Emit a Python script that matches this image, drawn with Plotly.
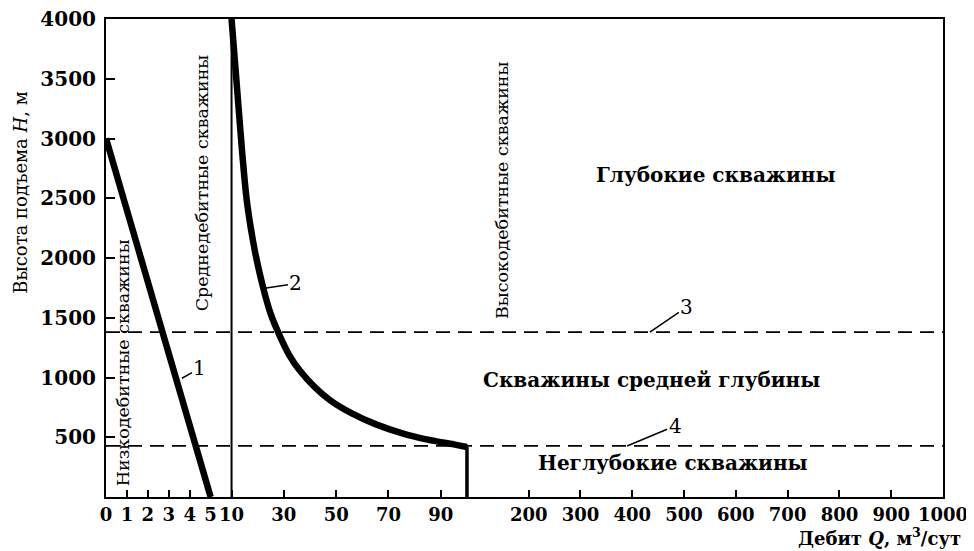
import numpy as np
import plotly.graph_objects as go

# ---- axis scale (piecewise x axis: 0-5, 10-100, 200-1000) ----
Q_BREAKS = [0, 5, 10, 100, 200, 1000]
U_BREAKS = [0, 5, 6, 17.25, 20.2, 40]


def to_u(q):
    return np.interp(q, Q_BREAKS, U_BREAKS)


# ---- data ----
x_tick_values = [0, 1, 2, 3, 4, 5, 10, 30, 50, 70, 90, 200, 300, 400, 500, 600, 700, 800, 900, 1000]
x_tick_labels = [str(v) for v in x_tick_values]
y_tick_values = [500, 1000, 1500, 2000, 2500, 3000, 3500, 4000]

# curve 1 (low-rate wells boundary)
curve1_q = [0, 5]
curve1_h = [3000, 0]

# curve 2 (medium/high-rate boundary)
curve2_q = [10, 12, 14, 16, 19, 22, 25, 28, 32, 36, 42, 48, 56, 65, 75, 85, 95, 100]
curve2_h = [4000, 3450, 2900, 2450, 2050, 1760, 1530, 1370, 1190, 1060, 915, 805, 700, 610, 535, 480, 440, 418]

# vertical drop of curve 2 at Q = 100
drop_q = [100, 100]
drop_h = [418, 0]

# boundary at Q = 10
vline_q = [10, 10]
vline_h = [0, 4000]

# depth boundaries (dashed) 3 and 4
depth_q = [0, 1000]
line3_h = 1380
line4_h = 427

SERIF = "DejaVu Serif"

fig = go.Figure()


def add_line(q, h, width, dash=None, shape="linear"):
    fig.add_trace(go.Scatter(
        x=to_u(q), y=h, mode="lines",
        line=dict(color="black", width=width, dash=dash, shape=shape, smoothing=1.0),
        showlegend=False, hoverinfo="skip"))


add_line(depth_q, [line3_h, line3_h], 1.8, dash="14px,8px")
add_line(depth_q, [line4_h, line4_h], 1.8, dash="14px,8px")
add_line(vline_q, vline_h, 2)
add_line(curve1_q, curve1_h, 6.5)
add_line(curve2_q, curve2_h, 6.5, shape="spline")
add_line(drop_q, drop_h, 3.5)

# ---- region labels ----
vert_labels = [
    ("Низкодебитные скважины", 0.81, 1127),
    ("Среднедебитные скважины", 4.59, 2625),
    ("Высокодебитные скважины", 158, 2566),
]
for text, q, h in vert_labels:
    fig.add_annotation(x=float(to_u(q)), y=h, text=text, textangle=-90, showarrow=False,
                       font=dict(family=SERIF, size=17.5, color="black"))

horiz_labels = [
    ("Глубокие скважины", 562, 2693),
    ("Скважины средней глубины", 438, 977),
    ("Неглубокие скважины", 479, 282),
]
for text, q, h in horiz_labels:
    fig.add_annotation(x=float(to_u(q)), y=h, text=text, showarrow=False,
                       font=dict(family=SERIF, size=20, color="black", weight="bold"))

# ---- curve number labels with leaders ----
num_labels = [
    ("1", 3.63, 994, 18, -10),
    ("2", 22, 1745, 33, -5),
    ("3", 434, line3_h, 37, -25),
    ("4", 390, line4_h, 48, -20),
]
for text, q, h, ax, ay in num_labels:
    fig.add_annotation(x=float(to_u(q)), y=h, text=text, showarrow=True, arrowhead=0,
                       arrowwidth=1.5, arrowcolor="black", ax=ax, ay=ay, standoff=0,
                       font=dict(family=SERIF, size=20, color="black"))

# ---- axis titles ----
fig.add_annotation(xref="paper", yref="paper", x=-0.103, y=0.638,
                   xanchor="center", yanchor="middle",
                   text="Высота подъема <i>H</i>, м", textangle=-90, showarrow=False,
                   font=dict(family=SERIF, size=18, color="black"))
fig.add_annotation(xref="paper", yref="paper", x=1.024, y=-0.083,
                   xanchor="right", yanchor="middle",
                   text="Дебит <i>Q</i>, м<sup>3</sup>/сут", showarrow=False,
                   font=dict(family=SERIF, size=18, color="black", weight="bold"))

# the page body has an 8px margin; size and margins compensate for it
fig.update_layout(
    width=966, height=543,
    margin=dict(l=98, r=31, t=11, b=54),
    plot_bgcolor="white", paper_bgcolor="white",
    xaxis=dict(range=[0, 40], tickmode="array", tickvals=[float(v) for v in to_u(x_tick_values)],
               ticktext=x_tick_labels, tickangle=0, automargin=False, ticklabeloverflow="allow",
               ticks="inside", ticklen=7, tickwidth=1.5, tickcolor="black",
               showline=True, linewidth=2, linecolor="black", mirror=True, showgrid=False,
               zeroline=False, tickfont=dict(family=SERIF, size=18, color="black", weight="bold"),
               ticklabelstandoff=0),
    yaxis=dict(range=[0, 4000], tickmode="array", tickvals=y_tick_values, automargin=False,
               ticklabeloverflow="allow",
               ticks="inside", ticklen=9, tickwidth=1.5, tickcolor="black",
               showline=True, linewidth=2, linecolor="black", mirror=True, showgrid=False,
               zeroline=False, tickfont=dict(family=SERIF, size=20, color="black", weight="bold"),
               ticklabelstandoff=4),
)

fig.write_html("out.html")
